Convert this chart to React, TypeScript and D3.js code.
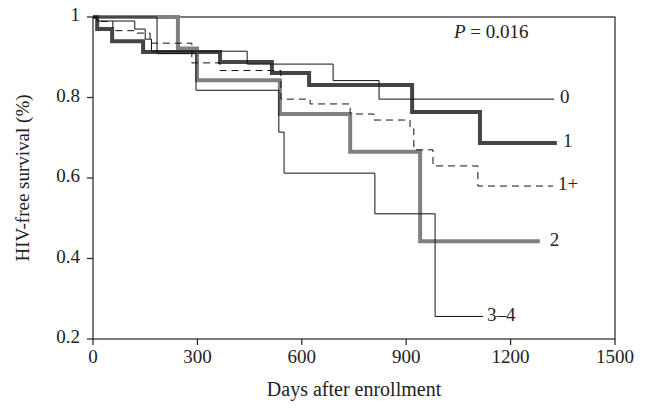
import React from "react";
import * as d3 from "d3";

// Kaplan-Meier steps (days, survival)
const days0 = [0, 12, 120, 150, 168, 443, 690, 822, 1325];
const surv0 = [1, 0.99, 0.97, 0.945, 0.915, 0.883, 0.842, 0.796, 0.796];

const days1 = [0, 12, 55, 144, 365, 514, 621, 917, 1112, 1333];
const surv1 = [1, 0.97, 0.94, 0.913, 0.888, 0.861, 0.831, 0.764, 0.687, 0.687];

const days1p = [0, 11, 57, 121, 164, 284, 365, 540, 624, 739, 807, 911, 922, 977, 1106, 1322];
const surv1p = [1, 0.989, 0.966, 0.96, 0.935, 0.886, 0.867, 0.796, 0.784, 0.759, 0.744, 0.722, 0.67, 0.63, 0.58, 0.58];

const days2 = [0, 244, 299, 537, 739, 940, 1284];
const surv2 = [1, 0.922, 0.843, 0.759, 0.665, 0.443, 0.443];

const days34 = [0, 184, 296, 534, 549, 810, 983, 1121];
const surv34 = [1, 0.909, 0.818, 0.714, 0.612, 0.511, 0.256, 0.256];

const xTicks = [0, 300, 600, 900, 1200, 1500];
const yTicks = [0.2, 0.4, 0.6, 0.8, 1];

const width = 648;
const height = 410;
const font = "'Liberation Serif', 'Times New Roman', serif";

const series = [
  { name: "2", days: days2, surv: surv2, color: "#808080", width: 4, dash: null, dx: 10 },
  { name: "1", days: days1, surv: surv1, color: "#444444", width: 4, dash: null, dx: 6 },
  { name: "0", days: days0, surv: surv0, color: "#111111", width: 1, dash: null, dx: 6 },
  { name: "1+", days: days1p, surv: surv1p, color: "#111111", width: 1, dash: "7,5", dx: 5 },
  { name: "3\u20134", days: days34, surv: surv34, color: "#111111", width: 1, dash: null, dx: 4 },
];

export default function App() {
  const x = d3.scaleLinear().domain([0, 1500]).range([93, 615]);
  const y = d3.scaleLinear().domain([0.2, 1]).range([339, 17]);

  const line = d3
    .line<[number, number]>()
    .x((d) => x(d[0]))
    .y((d) => y(d[1]))
    .curve(d3.curveStepAfter);

  return (
    <div style={{ position: "fixed", left: 0, top: 0 }}>
      <svg width={width} height={height} style={{ display: "block", background: "#fff" }}>
        {/* plot frame */}
        <rect x={93} y={17} width={615 - 93} height={339 - 17} fill="none" stroke="#222" strokeWidth={1.2} />

        {/* y ticks */}
        {yTicks.map((t) => (
          <g key={"y" + t}>
            <line x1={87} x2={93} y1={y(t)} y2={y(t)} stroke="#222" strokeWidth={1.2} />
            <text x={80} y={y(t)} textAnchor="end" dominantBaseline="middle" fontFamily={font} fontSize={19} fill="#222">
              {t === 1 ? "1" : t.toFixed(1)}
            </text>
          </g>
        ))}

        {/* x ticks */}
        {xTicks.map((t) => (
          <g key={"x" + t}>
            <line x1={x(t)} x2={x(t)} y1={339} y2={345} stroke="#222" strokeWidth={1.2} />
            <text x={x(t)} y={359} textAnchor="middle" dominantBaseline="middle" fontFamily={font} fontSize={19} fill="#222">
              {t}
            </text>
          </g>
        ))}

        {/* curves */}
        {series.map((s) => {
          const pts = s.days.map((d, i) => [d, s.surv[i]] as [number, number]);
          return (
            <path
              key={s.name}
              d={line(pts) || ""}
              fill="none"
              stroke={s.color}
              strokeWidth={s.width}
              strokeDasharray={s.dash || undefined}
            />
          );
        })}

        {/* end labels */}
        {series.map((s) => {
          const n = s.days.length - 1;
          return (
            <text
              key={"l" + s.name}
              x={x(s.days[n]) + s.dx}
              y={y(s.surv[n])}
              dominantBaseline="middle"
              fontFamily={font}
              fontSize={19}
              fill="#222"
            >
              {s.name}
            </text>
          );
        })}

        <text x={454} y={38} fontFamily={font} fontSize={19} fill="#222">
          <tspan fontStyle="italic">P</tspan> = 0.016
        </text>

        <text
          transform={`translate(25,178) rotate(-90)`}
          textAnchor="middle"
          dominantBaseline="middle"
          fontFamily={font}
          fontSize={19}
          fill="#222"
        >
          HIV-free survival (%)
        </text>
        <text x={354} y={391} textAnchor="middle" dominantBaseline="middle" fontFamily={font} fontSize={20} fill="#222">
          Days after enrollment
        </text>
      </svg>
    </div>
  );
}
